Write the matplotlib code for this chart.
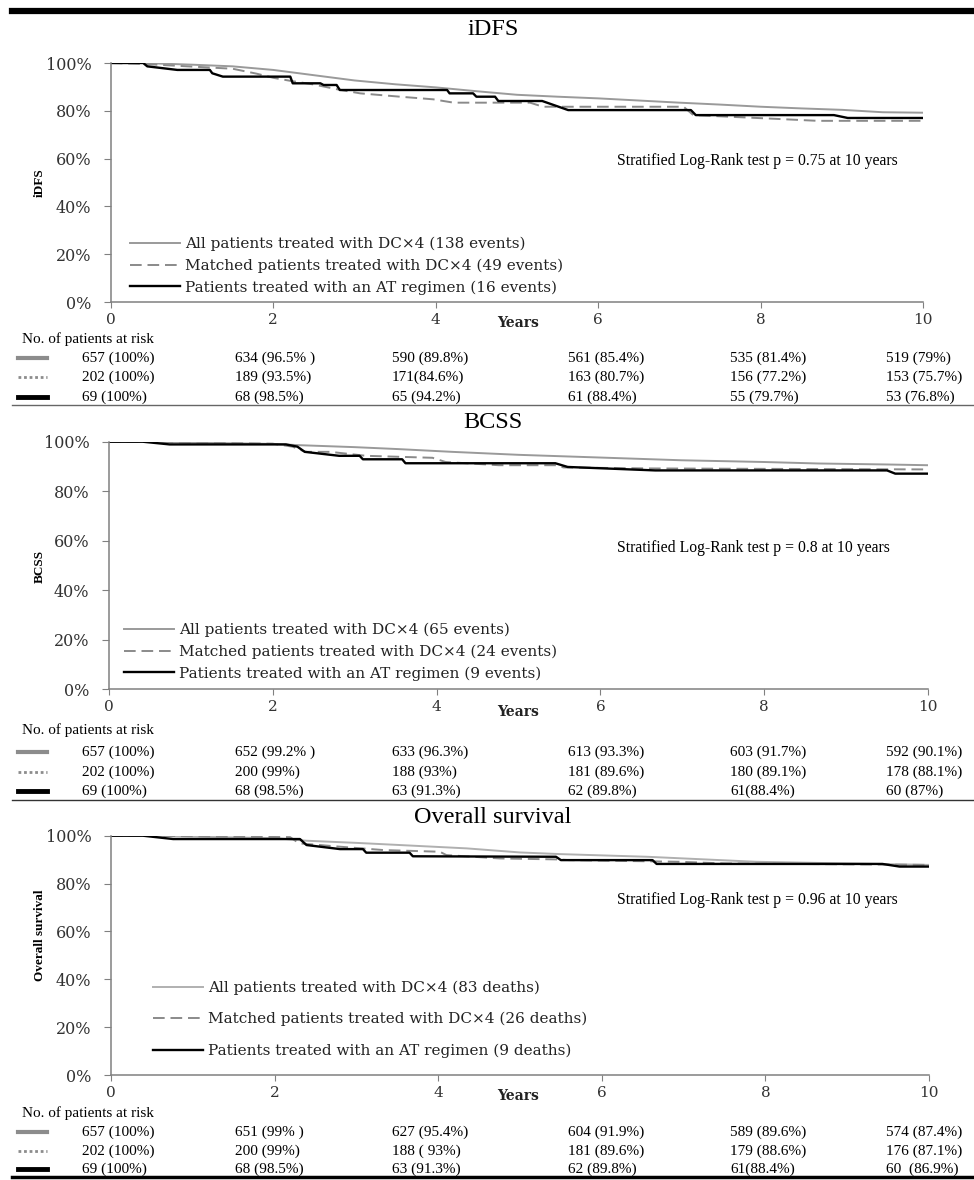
import matplotlib
matplotlib.use("Agg")
import matplotlib.pyplot as plt
from matplotlib.lines import Line2D

plt.rcParams['font.family'] = ['Liberation Serif', 'DejaVu Serif']

# ---------------- data ----------------
year_ticks = [0, 2, 4, 6, 8, 10]
pct_ticks = [0, 20, 40, 60, 80, 100]

# iDFS (years, % event free)
idfs_all_t = [0, 0.4, 1.0, 1.5, 2.0, 2.5, 3.0, 3.5, 4.0, 4.5, 5.0, 5.5, 6.0, 6.5, 7.0, 7.5, 8.0, 8.5, 9.0, 9.5, 10]
idfs_all_s = [100, 100, 99.3, 98.6, 97.1, 94.9, 92.7, 91.1, 89.8, 88.2, 86.7, 85.9, 85.2, 84.3, 83.4, 82.6, 81.7, 81.0, 80.4, 79.4, 79.2]
idfs_match_t = [0, 0.4, 1.22, 1.5, 1.8, 2.0, 2.2, 2.5, 2.83, 3.07, 3.56, 3.97, 4.22, 5.16, 5.32, 7.05, 7.17, 8.08, 8.7, 10]
idfs_match_s = [100, 99.6, 98.1, 97.6, 95.5, 93.8, 92.6, 91.0, 88.7, 87.3, 85.9, 84.8, 83.4, 83.4, 81.7, 81.7, 78.2, 76.8, 75.8, 75.8]
idfs_at_t = [0, 0.4, 0.45, 0.82, 1.22, 1.25, 1.38, 2.21, 2.24, 2.58, 2.62, 2.78, 2.82, 4.14, 4.17, 4.46, 4.5, 4.73, 4.77, 5.31, 5.63, 7.14, 7.2, 8.9, 9.07, 10]
idfs_at_s = [100, 100, 98.6, 97.1, 97.1, 95.7, 94.3, 94.3, 91.5, 91.5, 90.8, 90.8, 88.7, 88.7, 87.3, 87.3, 85.9, 85.9, 84.1, 84.1, 80.3, 80.3, 78.2, 78.2, 77.0, 77.0]

# BCSS
bcss_all_t = [0, 0.4, 1.0, 2.0, 2.32, 3.0, 3.54, 4.19, 5.0, 6.0, 6.99, 8.0, 8.66, 9.5, 10]
bcss_all_s = [100, 100, 99.6, 99.1, 98.6, 97.8, 97.0, 95.9, 94.7, 93.6, 92.5, 91.8, 91.2, 90.8, 90.5]
bcss_match_t = [0, 0.4, 1.0, 2.0, 2.24, 2.4, 2.7, 3.14, 3.95, 4.11, 4.76, 5.45, 5.55, 6.6, 10]
bcss_match_s = [100, 100, 99.6, 99.2, 98.0, 95.9, 95.9, 94.3, 93.5, 91.8, 90.5, 90.5, 89.6, 89.2, 88.8]
bcss_at_t = [0, 0.41, 0.74, 2.16, 2.3, 2.39, 2.81, 3.06, 3.1, 3.58, 3.62, 5.45, 5.6, 6.67, 9.5, 9.6, 10]
bcss_at_s = [100, 100, 98.9, 98.9, 98.0, 95.9, 94.3, 94.3, 92.9, 92.9, 91.3, 91.3, 89.8, 88.4, 88.4, 87.1, 87.1]

# Overall survival
os_all_t = [0, 0.4, 1.0, 2.0, 2.39, 3.0, 3.53, 4.35, 5.0, 5.5, 6.55, 7.89, 9.0, 10]
os_all_s = [100, 100, 99.6, 99.0, 97.9, 97.0, 96.1, 94.7, 93.0, 92.3, 91.2, 89.1, 88.4, 87.8]
os_match_t = [0, 0.4, 2.19, 2.3, 2.8, 3.33, 4.02, 4.1, 4.75, 5.44, 5.6, 6.95, 7.5, 10]
os_match_s = [100, 100, 99.4, 96.8, 95.4, 94.0, 93.3, 91.9, 90.5, 90.1, 89.8, 89.1, 88.4, 87.8]
os_at_t = [0, 0.39, 0.76, 2.31, 2.39, 2.8, 3.08, 3.12, 3.65, 3.69, 5.44, 5.5, 6.62, 6.67, 9.43, 9.64, 10]
os_at_s = [100, 100, 98.6, 98.6, 96.1, 94.4, 94.4, 92.9, 92.9, 91.4, 91.2, 89.8, 89.8, 88.2, 88.2, 87.1, 87.1]

idfs_labels = ["All patients treated with DC\u00d74 (138 events)",
               "Matched patients treated with DC\u00d74 (49 events)",
               "Patients treated with an AT regimen (16 events)"]
bcss_labels = ["All patients treated with DC\u00d74 (65 events)",
               "Matched patients treated with DC\u00d74 (24 events)",
               "Patients treated with an AT regimen (9 events)"]
os_labels = ["All patients treated with DC\u00d74 (83 deaths)",
             "Matched patients treated with DC\u00d74 (26 deaths)",
             "Patients treated with an AT regimen (9 deaths)"]

idfs_risk = [["657 (100%)", "634 (96.5% )", "590 (89.8%)", "561 (85.4%)", "535 (81.4%)", "519 (79%)"],
             ["202 (100%)", "189 (93.5%)", "171(84.6%)", "163 (80.7%)", "156 (77.2%)", "153 (75.7%)"],
             ["69 (100%)", "68 (98.5%)", "65 (94.2%)", "61 (88.4%)", "55 (79.7%)", "53 (76.8%)"]]
bcss_risk = [["657 (100%)", "652 (99.2% )", "633 (96.3%)", "613 (93.3%)", "603 (91.7%)", "592 (90.1%)"],
             ["202 (100%)", "200 (99%)", "188 (93%)", "181 (89.6%)", "180 (89.1%)", "178 (88.1%)"],
             ["69 (100%)", "68 (98.5%)", "63 (91.3%)", "62 (89.8%)", "61(88.4%)", "60 (87%)"]]
os_risk = [["657 (100%)", "651 (99% )", "627 (95.4%)", "604 (91.9%)", "589 (89.6%)", "574 (87.4%)"],
           ["202 (100%)", "200 (99%)", "188 ( 93%)", "181 (89.6%)", "179 (88.6%)", "176 (87.1%)"],
           ["69 (100%)", "68 (98.5%)", "63 (91.3%)", "62 (89.8%)", "61(88.4%)", "60  (86.9%)"]]

# ---------------- layout helpers (pixel based) ----------------
W, H = 974, 1180
fig = plt.figure(figsize=(W / 100, H / 100), dpi=100)


def fx(px):
    return px / W


def fy(py):
    return 1 - py / H


def hline(y, x0, x1, **kw):
    fig.add_artist(Line2D([fx(x0), fx(x1)], [fy(y), fy(y)], transform=fig.transFigure, **kw))


styles = [dict(color='#9a9a9a', lw=1.4, ls='-'),
          dict(color='#8a8a8a', lw=1.4, ls=(0, (6, 3))),
          dict(color='black', lw=1.7, ls='-')]
risk_glyphs = [dict(color='#8c8c8c', lw=3, ls='-'),
               dict(color='#8c8c8c', lw=2, ls=(0, (1, 1))),
               dict(color='black', lw=3.5, ls='-')]
col_x = [82, 235, 392, 568, 730, 886]


def panel(box, title, title_y, ylabel, ylabel_y, curves, labels, ptext, p_y,
          leg_x, leg_y, leg_space, years_y, risk, risk_y, all_color=None):
    x0, y0, x1, y1 = box
    ax = fig.add_axes([fx(x0), fy(y1), (x1 - x0) / W, (y1 - y0) / H])
    for i, (t, s) in enumerate(curves):
        st = dict(styles[i])
        if i == 0 and all_color:
            st['color'] = all_color
        ax.plot(t, s, label=labels[i], **st)
    ax.set_xlim(0, 10)
    ax.set_ylim(0, 100)
    ax.set_xticks(year_ticks)
    ax.set_yticks(pct_ticks)
    ax.set_yticklabels([f"{v}%" for v in pct_ticks])
    for side in ('top', 'right'):
        ax.spines[side].set_visible(False)
    for side in ('left', 'bottom'):
        ax.spines[side].set_color('#808080')
        ax.spines[side].set_linewidth(1.1)
    ax.tick_params(axis='y', direction='out', length=5, color='#808080', pad=9,
                   labelsize=11.5, labelcolor='#333333')
    ax.tick_params(axis='x', direction='out', length=4, color='#808080', pad=4,
                   labelsize=11, labelcolor='#333333')
    for lab in ax.get_xticklabels() + ax.get_yticklabels():
        lab.set_family('DejaVu Serif')

    fig.text(fx(493), fy(title_y), title, ha='center', va='baseline', fontsize=17.5)
    fig.text(fx(40), fy(ylabel_y), ylabel, rotation=90, ha='center', va='center',
             fontsize=9.5, fontweight='bold')
    fig.text(fx(617), fy(p_y), ptext, ha='left', va='baseline', fontsize=11.3)
    fig.text(fx(518), fy(years_y), "Years", ha='center', va='center', fontsize=10,
             fontweight='bold', family='DejaVu Serif', color='#222222')

    leg = ax.legend(loc='upper left', bbox_to_anchor=((leg_x - x0) / (x1 - x0), (y1 - leg_y) / (y1 - y0)),
                    borderaxespad=0, borderpad=0, frameon=False, handlelength=3.25,
                    handletextpad=0.33, labelspacing=leg_space,
                    prop={'family': 'DejaVu Serif', 'size': 11})
    for txt in leg.get_texts():
        txt.set_color('#222222')

    no_y, rows_y = risk_y
    fig.text(fx(22), fy(no_y), "No. of patients at risk", ha='left', va='center', fontsize=11)
    for r, row in enumerate(risk):
        fig.add_artist(Line2D([fx(18), fx(47)], [fy(rows_y[r]), fy(rows_y[r])],
                              transform=fig.transFigure, **risk_glyphs[r]))
        for c, cell in enumerate(row):
            fig.text(fx(col_x[c]), fy(rows_y[r]), cell, ha='left', va='center', fontsize=11)
    return ax


panel((110.7, 63, 923.3, 302), "iDFS", 35, "iDFS", 182.5,
      [(idfs_all_t, idfs_all_s), (idfs_match_t, idfs_match_s), (idfs_at_t, idfs_at_s)],
      idfs_labels, "Stratified Log-Rank test p = 0.75 at 10 years", 165,
      130, 237, 0.47, 323, idfs_risk, (339, [358, 377.5, 397]))

panel((109, 441.7, 928, 689.3), "BCSS", 428, "BCSS", 566,
      [(bcss_all_t, bcss_all_s), (bcss_match_t, bcss_match_s), (bcss_at_t, bcss_at_s)],
      bcss_labels, "Stratified Log-Rank test p = 0.8 at 10 years", 552,
      124, 623, 0.47, 712, bcss_risk, (730, [752, 772, 791]))

panel((111, 835.7, 929, 1075), "Overall survival", 823, "Overall survival", 935.5,
      [(os_all_t, os_all_s), (os_match_t, os_match_s), (os_at_t, os_at_s)],
      os_labels, "Stratified Log-Rank test p = 0.96 at 10 years", 904,
      153, 980.5, 1.12, 1096, os_risk, (1113, [1132, 1151, 1169]), all_color='#b0b0b0')

# frame rules between the blocks
hline(11, 12, 974, color='black', lw=4.5)
hline(405, 12, 974, color='#666666', lw=1)
hline(800, 12, 974, color='#333333', lw=1)
hline(1177, 12, 974, color='black', lw=2.5)

fig.savefig("out.png", dpi=100)
